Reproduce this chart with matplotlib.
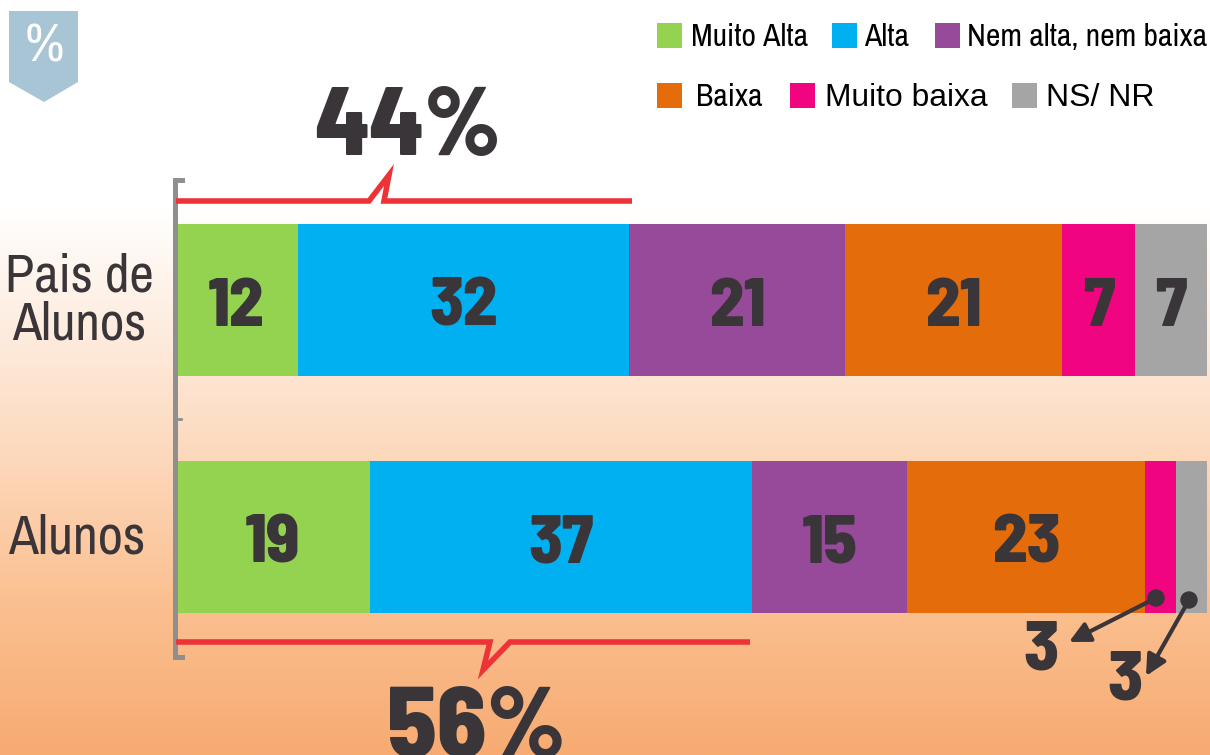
import matplotlib
matplotlib.use("Agg")
import matplotlib.pyplot as plt
import numpy as np
from matplotlib.colors import LinearSegmentedColormap
from matplotlib.patches import Polygon, Rectangle, Circle

# data
groups = ["Pais de\nAlunos", "Alunos"]
levels = ["Muito Alta", "Alta", "Nem alta, nem baixa", "Baixa", "Muito baixa", "NS/ NR"]
pais_values = [12, 32, 21, 21, 7, 7]
alunos_values = [19, 37, 15, 23, 3, 3]
pais_total = "44%"
alunos_total = "56%"
level_colors = ["#94d350", "#00b0f0", "#97499a", "#e46c0a", "#f0047f", "#a5a5a5"]

DARK = "#3a3539"
RED = "#ee3338"
GREY = "#8f8f8f"
NARROW = ["Archivo Narrow", "Liberation Sans"]
PLAIN = ["Liberation Sans"]
BOLD = ["Barlow Semi Condensed", "Roboto"]

fig = plt.figure(figsize=(12.1, 7.55), dpi=100)

# overlay axes in picture pixels, for the decoration
px = fig.add_axes([0, 0, 1, 1], zorder=1)
px.axis("off")

# background fade
cmap = LinearSegmentedColormap.from_list("fade", [
    (0.0, "#ffffff"), (0.36, "#fde1cb"), (0.72, "#fbc091"), (1.0, "#f7ab72")])
grad = np.linspace(0, 1, 300).reshape(-1, 1)
px.imshow(grad, extent=(0, 1210, 755, 205), cmap=cmap, aspect="auto", zorder=0)
px.set_xlim(0, 1210)
px.set_ylim(755, 0)

# bars, same pixel scale worked out from the segment edges
ax = fig.add_axes([0, 0, 1, 1], zorder=2)
ax.patch.set_alpha(0)
ax.set_xlim(-174 / 10.33, (1210 - 174) / 10.33)
ax.set_ylim(455 / 237, -300 / 237)
ax.axis("off")

for row, values in enumerate([pais_values, alunos_values]):
    left = 0
    for val, col in zip(values, level_colors):
        ax.barh(row, val, left=left, height=152 / 237, color=col, linewidth=0)
        if val > 3:
            ax.text(left + val / 2, row + 0.007, str(val), ha="center", va="center_baseline",
                    fontsize=49, fontweight=800, family=BOLD, color=DARK)
        left += val

# top layer for the brackets and labels
top = fig.add_axes([0, 0, 1, 1], zorder=3)
top.patch.set_alpha(0)
top.set_xlim(0, 1210)
top.set_ylim(755, 0)
top.axis("off")

# group labels
top.text(79, 300, groups[0], ha="center", va="center", fontsize=38.5, family=NARROW,
         color=DARK, linespacing=1.0)
top.text(77, 538, groups[1], ha="center", va="center", fontsize=39.5, family=NARROW, color=DARK)

# left bracket
top.plot([182, 175, 175, 182], [180, 180, 657, 657], color=GREY, lw=3.6, solid_joinstyle="miter")
top.plot([175, 181], [419, 419], color=GREY, lw=2)

# red brackets
top.plot([176, 369, 389, 384, 632], [201, 201, 175, 201, 201], color=RED, lw=4,
         solid_joinstyle="miter", solid_capstyle="butt")
top.plot([176, 490, 483, 510, 750], [642, 642, 670, 642, 642], color=RED, lw=4,
         solid_joinstyle="miter", solid_capstyle="butt")
top.text(408, 155, pais_total, ha="center", va="baseline", fontsize=70, fontweight=800,
         family=BOLD, color=DARK)
top.text(476, 757, alunos_total, ha="center", va="baseline", fontsize=72, fontweight=800,
         family=BOLD, color=DARK)

# small values with arrows
top.add_patch(Circle((1156, 598), 8, color=DARK))
top.add_patch(Circle((1189, 600), 8, color=DARK))
top.annotate("", xy=(1069, 642), xytext=(1156, 598),
             arrowprops=dict(arrowstyle="-|>", color=DARK, lw=3, mutation_scale=31,
                             shrinkA=0, shrinkB=0))
top.annotate("", xy=(1146, 676), xytext=(1189, 600),
             arrowprops=dict(arrowstyle="-|>", color=DARK, lw=3, mutation_scale=31,
                             shrinkA=0, shrinkB=0))
top.text(1041, 670, str(alunos_values[4]), ha="center", va="baseline", fontsize=51,
         fontweight=800, family=BOLD, color=DARK)
top.text(1125, 699, str(alunos_values[5]), ha="center", va="baseline", fontsize=51,
         fontweight=800, family=BOLD, color=DARK)

# percent badge
top.add_patch(Polygon([(9, 11), (78, 11), (78, 82), (44, 102), (9, 82)], closed=True,
                      color="#a7c5d5", linewidth=0))
top.text(44, 47, "%", ha="center", va="center", fontsize=39, fontweight="bold", family=NARROW,
         color="white")

# legend
legend_boxes = [657, 832, 935, 657, 790, 1012]
legend_text = [691, 864, 967, 696, 825, 1046]
legend_y = [35, 35, 35, 95, 95, 95]
legend_size = [22.8, 22.8, 22.8, 22.8, 22.9, 23]
legend_font = [NARROW, NARROW, NARROW, NARROW, PLAIN, PLAIN]
for name, col, bx, tx, ly, fs, fam in zip(levels, level_colors, legend_boxes, legend_text,
                                          legend_y, legend_size, legend_font):
    top.add_patch(Rectangle((bx, ly - 12.5), 25, 25, color=col, linewidth=0))
    top.text(tx, ly, name, ha="left", va="center_baseline", fontsize=fs, family=fam, color="black")

fig.savefig("out.png", dpi=100)
